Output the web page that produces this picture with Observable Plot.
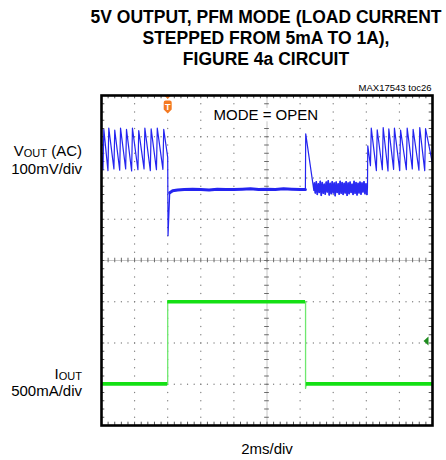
<!DOCTYPE html>
<html><head><meta charset="utf-8">
<script src="https://cdn.jsdelivr.net/npm/d3@7"></script>
<script src="https://cdn.jsdelivr.net/npm/@observablehq/plot@0.6"></script>
<style>
body{margin:0;background:#fff;font-family:"Liberation Sans",Arial,sans-serif;}
#wrap{position:relative;width:446px;height:460px;overflow:hidden;background:#fff}
#title{position:absolute;left:0;width:532px;top:0;text-align:center;font-weight:bold;font-size:17.5px;line-height:21px;padding-top:7.4px;white-space:nowrap;color:#000}
#chart{position:absolute;left:0;top:78px}
</style></head><body>
<div id="wrap">
<div id="title">5V OUTPUT, PFM MODE (LOAD CURRENT<br>STEPPED FROM 5mA TO 1A),<br>FIGURE 4a CIRCUIT</div>
<div id="chart"></div>
</div>
<script>
// ---- scope settings ----
const timeDomain = [0, 20];          // ms (2ms/div, 10 div)
const divDomain = [-4, 4];           // vertical divisions
const mvPerDiv = 100;                // Vout channel
const maPerDiv = 500;                // Iout channel
const voutOffsetDiv = 2;             // channel 1 reference position
const ioutOffsetDiv = -3;            // channel 2 reference position
const triggerTime = 4.0;             // ms
const triggerLevelMa = 525;          // mA

// ---- grid arrays ----
const majorX = [0, 2, 4, 6, 8, 10, 12, 14, 16, 18, 20];
const majorY = [-4, -3, -2, -1, 0, 1, 2, 3, 4];
const minorX = d3.range(0, 20.0001, 0.4);
const minorY = d3.range(-4, 4.0001, 0.2);

// ---- Vout (AC) trace, ms / mV ----
const voutT  = [0.00, 0.09, 0.14, 0.39, 0.44, 0.75, 0.80, 1.10, 1.15, 1.46, 1.51, 1.82, 1.87, 2.20, 2.25, 2.57, 2.62, 2.95, 3.00, 3.32, 3.37, 3.71, 3.76, 4.00, 4.02, 4.12,
                4.30, 4.60, 5.00, 5.50, 6.00, 6.50, 7.00, 7.50, 8.00, 8.50, 9.00, 9.50, 10.00, 10.50, 11.00, 11.50, 12.00, 12.32,
                12.34, 12.83];
const voutMv = [60, 20, 118, 18, 121, 22, 116, 19, 121, 22, 118, 17, 121, 20, 115, 22, 121, 18, 119, 20, 121, 21, 118, 50, -140, -38,
                -31, -29, -28, -27, -28, -29, -27, -28, -28, -27, -26, -28, -27, -28, -26, -27, -28, -28,
                107, -30];
// heavy ripple after overshoot (12.86 .. 16.04 ms)
const rippleT = d3.range(12.86, 16.05, 0.06);
const rippleMv = [-12,-36,-9,-40,-14,-35,-8,-42,-11,-37,-15,-39,-10,-34,-7,-41,-13,-38,-9,-36,-12,-43,-10,-35,-14,-39,-8,-37,
                  -11,-40,-13,-36,-9,-42,-12,-38,-10,-35,-15,-40,-8,-37,-11,-41,-13,-36,-10,-39,-12,-34,-9,-38,-14,-40];
// return to PFM sawtooth
const vout2T  = [16.07, 16.09, 16.25, 16.30, 16.61, 16.66, 16.97, 17.02, 17.31, 17.36, 17.65, 17.70, 18.02, 18.07, 18.42, 18.47, 18.78, 18.83, 19.18, 19.23, 19.53, 19.58, 20.00];
const vout2Mv = [-25, 78, 30, 121, 18, 117, 20, 122, 17, 119, 21, 121, 18, 116, 20, 121, 22, 118, 19, 122, 18, 120, 35];
// quiet heavy-load section (thick noisy trace)
const flatT  = [4.12, 4.30, 4.60, 5.00, 5.50, 6.00, 6.50, 7.00, 7.50, 8.00, 8.50, 9.00, 9.50, 10.00, 10.50, 11.00, 11.50, 12.00, 12.32];
const flatMv = [-36, -31, -29, -28, -27, -28, -29, -27, -28, -28, -27, -26, -28, -27, -28, -26, -27, -28, -28];

// ---- Iout trace, ms / mA ----
const ioutT  = [0.00, 4.00, 4.00, 12.33, 12.33, 12.38, 20.00];
const ioutMa = [5, 5, 1000, 1000, -50, 5, 5];
const ioutLevels = [{t1: 0, t2: 4.0, ma: 5}, {t1: 4.0, t2: 12.33, ma: 1000}, {t1: 12.38, t2: 20, ma: 5}];

// build tables
const voutDiv = mv => voutOffsetDiv + mv / mvPerDiv;
const ioutDiv = ma => ioutOffsetDiv + ma / maPerDiv;
const vout = [
  ...voutT.map((t, i) => ({t, v: voutMv[i]})),
  ...rippleT.map((t, i) => ({t, v: rippleMv[i]})),
  ...vout2T.map((t, i) => ({t, v: vout2Mv[i]}))
];
const voutFlat = flatT.map((t, i) => ({t, v: flatMv[i]}));
const rippleRows = rippleT.map((t, i) => ({t, v: rippleMv[i]}));
const iout = ioutT.map((t, i) => ({t, a: ioutMa[i]}));

const gridDots = [];
for (const x of majorX) if (x !== 0 && x !== 20 && x !== 10) for (const y of minorY) gridDots.push({x, y});
for (const y of majorY) if (y !== -4 && y !== 4 && y !== 0) for (const x of minorX) gridDots.push({x, y});

const pinSymbol = {draw(ctx) {
  ctx.moveTo(-3, 0.5); ctx.lineTo(3, 0.5); ctx.lineTo(0, 3.5); ctx.closePath();
  ctx.moveTo(-2, 5); ctx.lineTo(2, 5); ctx.quadraticCurveTo(4, 5, 4, 7); ctx.lineTo(4, 14);
  ctx.lineTo(0, 18); ctx.lineTo(-4, 14); ctx.lineTo(-4, 7); ctx.quadraticCurveTo(-4, 5, -2, 5); ctx.closePath();
}};
const arrowSymbol = {draw(ctx) {
  ctx.moveTo(-9, 0); ctx.lineTo(-4, -4.5); ctx.lineTo(-4, 4.5); ctx.closePath();
}};

const plot = Plot.plot({
  width: 446, height: 382,
  marginTop: 17, marginBottom: 35, marginLeft: 101, marginRight: 14,
  x: {domain: timeDomain, axis: null},
  y: {domain: divDomain, axis: null},
  style: {fontFamily: "Liberation Sans, Arial, sans-serif", background: "#fff"},
  marks: [
    Plot.dot(gridDots, {x: "x", y: "y", r: 0.65, fill: "#7d7d7d", stroke: null}),
    Plot.ruleX([10], {stroke: "#b8b8b8", strokeWidth: 0.8}),
    Plot.ruleY([0], {stroke: "#b8b8b8", strokeWidth: 0.8}),
    Plot.ruleX(minorX, {x: d => d, y1: -0.055, y2: 0.055, stroke: "#6a6a6a", strokeWidth: 1}),
    Plot.ruleY(minorY, {y: d => d, x1: 9.86, x2: 10.14, stroke: "#6a6a6a", strokeWidth: 1}),
    Plot.ruleX(minorX, {x: d => d, y1: 4, y2: 3.92, stroke: "#555", strokeWidth: 1}),
    Plot.ruleX(minorX, {x: d => d, y1: -4, y2: -3.92, stroke: "#555", strokeWidth: 1}),
    Plot.ruleY(minorY, {y: d => d, x1: 20, x2: 19.8, stroke: "#555", strokeWidth: 1}),
    Plot.ruleY(minorY, {y: d => d, x1: 0, x2: 0.2, stroke: "#555", strokeWidth: 1}),
    // annotation (with white halo over the grid)
    Plot.text(["MODE = OPEN"], {frameAnchor: "top-left", text: d => d, dx: 112, dy: 24, lineAnchor: "bottom", textAnchor: "start", fontSize: 15, fill: "#000", stroke: "#fff", strokeWidth: 8}),
    // Vout
    Plot.line(vout, {x: "t", y: d => voutDiv(d.v), stroke: "#2424f0", strokeWidth: 1.2, curve: "linear"}),
    Plot.line(voutFlat, {x: "t", y: d => voutDiv(d.v), stroke: "#2424f0", strokeWidth: 3}),
    Plot.line(rippleRows, {x: "t", y: d => voutDiv(d.v), stroke: "#2a2af2", strokeWidth: 1.6}),
    // Iout
    Plot.line(iout, {x: "t", y: d => ioutDiv(d.a), stroke: "#6fe86f", strokeWidth: 1.3}),
    Plot.ruleY(ioutLevels, {x1: "t1", x2: "t2", y: d => ioutDiv(d.ma), stroke: "#14e014", strokeWidth: 3.6}),
    // markers
    Plot.dot([triggerTime], {x: d => d, frameAnchor: "top", symbol: pinSymbol, fill: "#f47a22", stroke: null, r: 5}),
    Plot.text([triggerTime], {x: d => d, frameAnchor: "top", text: () => "T", dy: 11.5, lineAnchor: "middle", fill: "#fff", fontWeight: "bold", fontSize: 9}),
    Plot.dot([triggerLevelMa], {y: d => ioutDiv(d), frameAnchor: "right", symbol: arrowSymbol, fill: "#1e8c1e", stroke: null, r: 5}),
    Plot.frame({stroke: "#000", strokeWidth: 2.6}),
    // other annotations
    Plot.text(["MAX17543 toc26"], {frameAnchor: "top-right", text: d => d, dx: -1, dy: -5, lineAnchor: "bottom", textAnchor: "end", fontSize: 9.5, fill: "#000"}),
    Plot.text(["2ms/div"], {frameAnchor: "bottom", text: d => d, dy: 28, lineAnchor: "bottom", fontSize: 15, fill: "#000"})
  ]
});
document.getElementById("chart").appendChild(plot);

// channel labels with subscripts
const svg = d3.select(plot);
const ys = plot.scale("y");
const xs = plot.scale("x");
const labelX = xs.apply(timeDomain[0]) - 19;
function chanLabel(main, sub, extra, line2, yBase, gap) {
  const t = svg.append("text").attr("x", labelX).attr("y", yBase).attr("text-anchor", "end")
    .attr("font-size", 15).attr("font-family", "Liberation Sans, Arial, sans-serif").attr("fill", "#000");
  t.append("tspan").text(main);
  t.append("tspan").attr("font-size", 11).attr("dy", 1).text(sub);
  if (extra) t.append("tspan").attr("dy", -1).text(extra);
  svg.append("text").attr("x", labelX).attr("y", yBase + gap).attr("text-anchor", "end")
    .attr("font-size", 15).attr("font-family", "Liberation Sans, Arial, sans-serif").attr("fill", "#000").text(line2);
}
chanLabel("V", "OUT", " (AC)", "100mV/div", ys.apply(voutOffsetDiv) - 22, 18);
chanLabel("I", "OUT", null, "500mA/div", ys.apply(ioutOffsetDiv) - 5, 17);
</script>
</body></html>
